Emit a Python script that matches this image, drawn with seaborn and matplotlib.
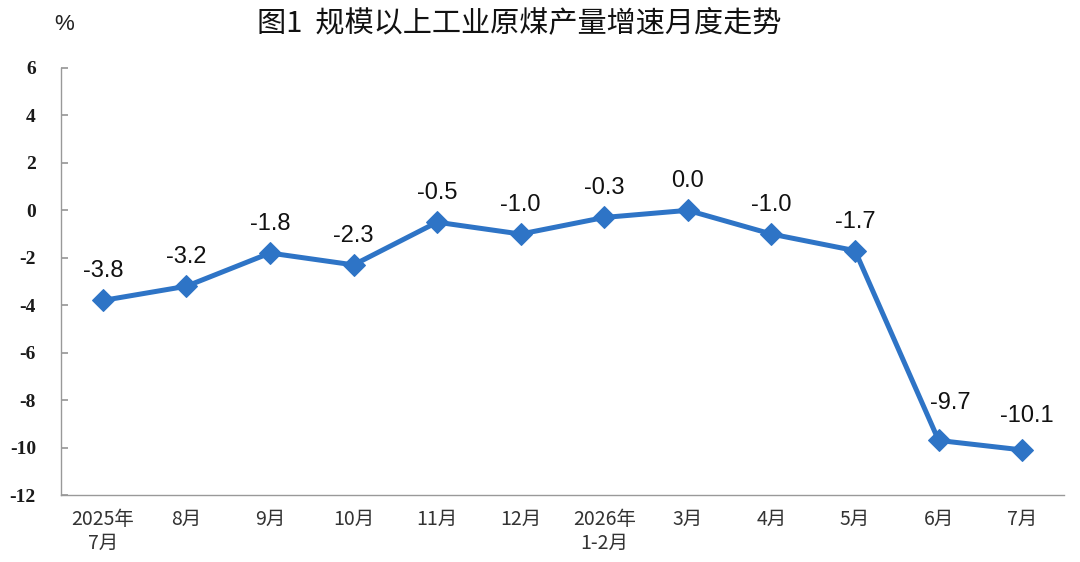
import matplotlib
matplotlib.use("Agg")
import matplotlib.pyplot as plt
import seaborn as sns
import pandas as pd

months = ["2025年\n7月", "8月", "9月", "10月", "11月", "12月", "2026年\n1-2月",
          "3月", "4月", "5月", "6月", "7月"]
growth = [-3.8, -3.2, -1.8, -2.3, -0.5, -1.0, -0.3, 0.0, -1.0, -1.7, -9.7, -10.1]
y_ticks = [6, 4, 2, 0, -2, -4, -6, -8, -10, -12]

sns.set_theme(style="white")
plt.rcParams['font.family'] = ['Noto Sans CJK SC', 'DejaVu Sans']

df = pd.DataFrame({"idx": list(range(len(months))), "growth": growth})

fig = plt.figure(figsize=(10.8, 5.62), dpi=100)
ax = fig.add_axes([61/1080, 1-495/562, 1003/1080, (495-68)/562])

color = "#2E74C6"
sns.lineplot(data=df, x="idx", y="growth", ax=ax, color=color, linewidth=3.6,
             marker="D", markersize=11, markeredgecolor=color, markerfacecolor=color)

# label nudges (pixels) for crowded points
nudge = {10: (12, 37), 11: (5, 34)}
for i, v in enumerate(growth):
    dx, dy = nudge.get(i, (0, 29))
    ax.annotate(f"{v:.1f}", (i, v), textcoords="offset pixels", xytext=(dx, dy),
                ha="center", va="center", fontsize=17, family="Liberation Sans",
                color="#111111")

ax.set_xlim(-0.5, len(months) - 0.5)
ax.set_ylim(-12, 6)
ax.set_yticks(y_ticks)
ax.set_yticklabels([str(t) for t in y_ticks], family="Liberation Serif", fontsize=14,
                   fontweight="bold", color="#1a1a1a")
ax.set_xticks(range(len(months)))
ax.set_xticklabels(months, fontsize=14, linespacing=1.2, color="#333333")
ax.set_xticks([i + 0.5 for i in range(-1, len(months))], minor=True)
ax.tick_params(axis="x", which="major", length=0, pad=10)
ax.tick_params(axis="x", which="minor", length=5, direction="in", color="#999999")
ax.tick_params(axis="y", length=5, direction="in", color="#999999", pad=18, left=True)
for lab in ax.get_yticklabels():
    lab.set_horizontalalignment("right")
ax.set_xlabel("")
ax.set_ylabel("")
for s in ["top", "right"]:
    ax.spines[s].set_visible(False)
for s in ["left", "bottom"]:
    ax.spines[s].set_color("#999999")
    ax.spines[s].set_linewidth(1.0)
ax.grid(False)

fig.text(519/1080, 1-23/562, "图1  规模以上工业原煤产量增速月度走势", ha="center", va="center",
         fontsize=21, color="#111111")
fig.text(64/1080, 1-24/562, "%", ha="center", va="center", fontsize=16, color="#222222",
         family="Liberation Sans")

fig.savefig("out.png", dpi=100, facecolor="white")
